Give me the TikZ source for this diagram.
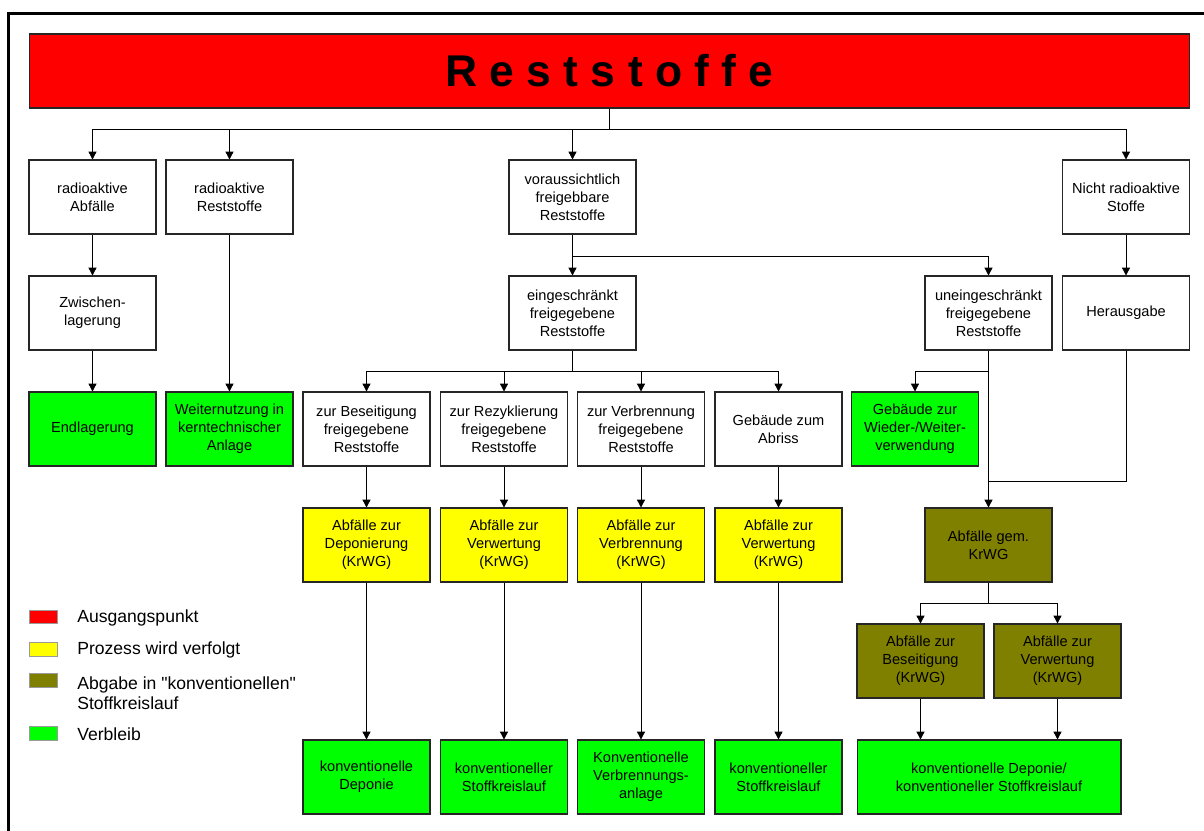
\documentclass[tikz,border=0pt]{standalone}
\usepackage{fontspec}
\setmainfont{Liberation Sans}
\newfontfamily\plainarial{Liberation Sans}
\usepackage{tikz}
\usetikzlibrary{arrows.meta}
\definecolor{boxline}{HTML}{262626}
\definecolor{ausgang}{HTML}{FF0000}
\definecolor{verfolgt}{HTML}{FFFF00}
\definecolor{abgabe}{HTML}{808000}
\definecolor{verbleib}{HTML}{00FF00}
\definecolor{swline}{HTML}{9A9A9A}
\tikzset{
  box/.style={draw=boxline, line width=0.6pt, minimum width=2.54cm, minimum height=1.48cm,
    inner sep=0pt, align=center, font=\fontsize{8.3}{10.2}\selectfont},
  weiss/.style={box, fill=white},
  gelb/.style={box, fill=verfolgt},
  oliv/.style={box, fill=abgabe},
  gruen/.style={box, fill=verbleib},
  line/.style={draw=black, line width=0.5pt},
  arr/.style={line, -{Triangle[length=4.5pt, width=4.6pt]}},
  swatch/.style={draw=swline, line width=0.5pt},
  legtext/.style={anchor=west, align=left, inner sep=0pt, font=\plainarial\fontsize{10}{11.3}\selectfont},
  frame/.style={draw=black, line width=1.7pt}
}
\begin{document}
\begin{tikzpicture}[x=0.02cm, y=-0.02cm]
  \useasboundingbox (0,0) rectangle (1204,831);
  \fill[white] (0,0) rectangle (1204,831);
  \draw[frame] (8.5,900) -- (8.5,13.5) -- (1260,13.5);

  % title
  \node[box, fill=ausgang, minimum width=23.22cm, font=\fontsize{25.3}{30}\selectfont\bfseries]
    (top) at (609.5,71) {R e s t s t o f f e};

  % row 1
  \node[weiss] (ra) at (92.5,197) {radioaktive\\Abfälle};
  \node[weiss] (rr) at (229.5,197) {radioaktive\\Reststoffe};
  \node[weiss] (vf) at (572.5,197) {voraussichtlich\\freigebbare\\Reststoffe};
  \node[weiss] (nr) at (1126,197) {Nicht radioaktive\\Stoffe};

  % row 2
  \node[weiss] (zl) at (92.5,313) {Zwischen-\\lagerung};
  \node[weiss] (ef) at (572.5,313) {eingeschränkt\\freigegebene\\Reststoffe};
  \node[weiss] (uf) at (988.5,313) {uneingeschränkt\\freigegebene\\Reststoffe};
  \node[weiss] (ha) at (1126,313) {Herausgabe};

  % row 3
  \node[gruen] (el) at (92.5,429) {Endlagerung};
  \node[gruen] (wn) at (229.5,429) {Weiternutzung in\\kerntechnischer\\Anlage};
  \node[weiss] (zb) at (366.5,429) {zur Beseitigung\\freigegebene\\Reststoffe};
  \node[weiss] (zr) at (504,429) {zur Rezyklierung\\freigegebene\\Reststoffe};
  \node[weiss] (zv) at (641,429) {zur Verbrennung\\freigegebene\\Reststoffe};
  \node[weiss] (ga) at (778.5,429) {Gebäude zum\\Abriss};
  \node[gruen] (gw) at (915,429) {Gebäude zur\\Wieder-/Weiter-\\verwendung};

  % row 4
  \node[gelb] (ad) at (366.5,545) {Abfälle zur\\Deponierung\\(KrWG)};
  \node[gelb] (aw) at (504,545) {Abfälle zur\\Verwertung\\(KrWG)};
  \node[gelb] (ab) at (641,545) {Abfälle zur\\Verbrennung\\(KrWG)};
  \node[gelb] (ag) at (778.5,545) {Abfälle zur\\Verwertung\\(KrWG)};
  \node[oliv] (kr) at (988.5,545) {Abfälle gem.\\KrWG};

  \node[oliv] (kb) at (920.5,661) {Abfälle zur\\Beseitigung\\(KrWG)};
  \node[oliv] (kv) at (1057.5,661) {Abfälle zur\\Verwertung\\(KrWG)};

  % row 5
  \node[gruen] (kd) at (366.5,777) {konventionelle\\Deponie};
  \node[gruen] (ks) at (504,777) {konventioneller\\Stoffkreislauf};
  \node[gruen] (ka) at (641,777) {Konventionelle\\Verbrennungs-\\anlage};
  \node[gruen] (kg) at (778.5,777) {konventioneller\\Stoffkreislauf};
  \node[gruen, minimum width=5.28cm] (kk) at (989,777) {konventionelle Deponie/\\konventioneller Stoffkreislauf};

  % connectors
  \coordinate (j0) at (609.5,129);
  \draw[line] (top.south) -- (j0);
  \foreach \n in {ra,rr,vf,nr}
    \draw[arr] (j0) -| (\n.north);
  \draw[arr] (ra) -- (zl);
  \draw[arr] (zl) -- (el);
  \draw[arr] (rr) -- (wn);
  \draw[arr] (nr) -- (ha);

  \coordinate (j1) at (572.5,256);
  \draw[line] (vf) -- (j1);
  \draw[arr] (j1) -- (ef);
  \draw[arr] (j1) -| (uf.north);

  \coordinate (j2) at (572.5,371);
  \draw[line] (ef) -- (j2);
  \foreach \n in {zb,zr,zv,ga}
    \draw[arr] (j2) -| (\n.north);
  \draw[arr] (zb) -- (ad);
  \draw[arr] (zr) -- (aw);
  \draw[arr] (zv) -- (ab);
  \draw[arr] (ga) -- (ag);
  \draw[arr] (ad) -- (kd);
  \draw[arr] (aw) -- (ks);
  \draw[arr] (ab) -- (ka);
  \draw[arr] (ag) -- (kg);

  \coordinate (j3) at (988.5,371);
  \coordinate (j4) at (988.5,481);
  \draw[arr] (j3) -| (gw.north);
  \draw[arr] (uf) -- (kr);
  \draw[line] (ha.south) |- (j4);

  \coordinate (j5) at (988.5,603);
  \draw[line] (kr) -- (j5);
  \draw[arr] (j5) -| (kb.north);
  \draw[arr] (j5) -| (kv.north);
  \draw[arr] (kb) -- (kb |- kk.north);
  \draw[arr] (kv) -- (kv |- kk.north);

  % legend
  \draw[swatch, fill=ausgang] (29,610) rectangle (57,623);
  \draw[swatch, fill=verfolgt] (29,642) rectangle (57,656);
  \draw[swatch, fill=abgabe] (29,673) rectangle (57,687);
  \draw[swatch, fill=verbleib] (29,726) rectangle (57,740);
  \node[legtext] (l1) at (77,618) {Ausgangspunkt};
  \node[legtext] (l2) at (77,650) {Prozess wird verfolgt};
  \node[legtext] (l3) at (77,693) {Abgabe in "konventionellen"\\Stoffkreislauf};
  \node[legtext] (l4) at (77,734) {Verbleib};
\end{tikzpicture}
\end{document}
